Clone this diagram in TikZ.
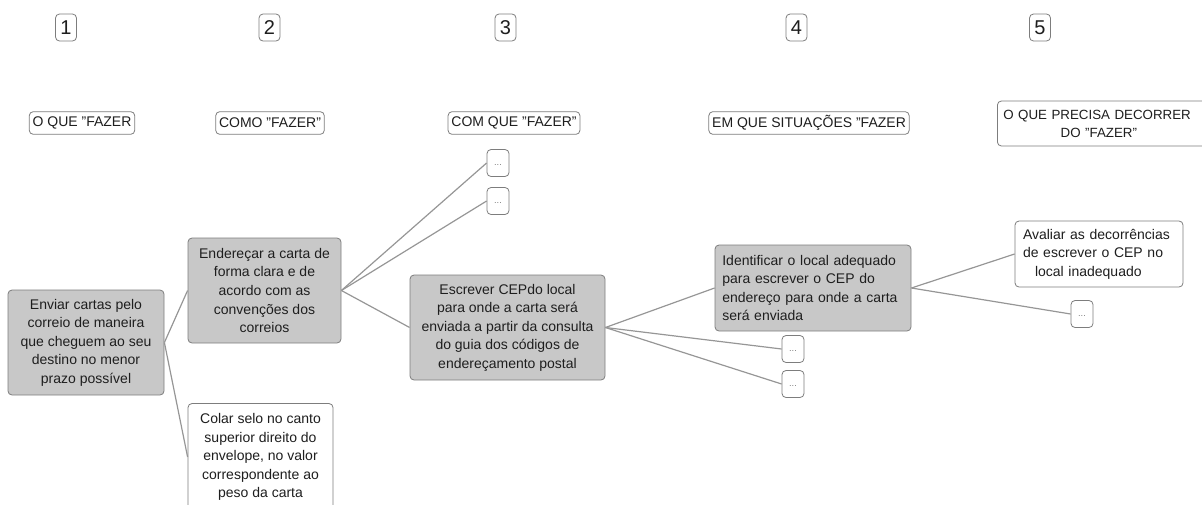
\documentclass[tikz,border=0pt]{standalone}
\usepackage{fontspec}
\setmainfont{Liberation Sans}[Ligatures=NoCommon]
\definecolor{txt}{RGB}{30,30,30}
\definecolor{bord}{RGB}{125,125,125}
\definecolor{gfill}{RGB}{200,200,200}
\definecolor{lnk}{RGB}{150,150,150}
\newcommand{\qq}{\symbol{34}}
\begin{document}
\begin{tikzpicture}[x=0.75pt,y=-0.75pt,
  every node/.style={font=\fontsize{10.5pt}{13.9pt}\selectfont, text=txt},
  gbox/.style={draw=bord, fill=gfill, rounded corners=3pt, align=center, inner sep=0pt, line width=0.6pt},
  wbox/.style={draw=bord, fill=white, rounded corners=3pt, align=center, inner sep=0pt, line width=0.6pt},
  num/.style={wbox, minimum width=15.75pt, minimum height=20.25pt, font=\fontsize{15pt}{15pt}\selectfont},
  hdr/.style={wbox, inner xsep=2.5pt, minimum height=17pt},
  dotbox/.style={wbox, minimum width=16.5pt, minimum height=20.25pt, text=gray, font=\fontsize{7pt}{7pt}\selectfont},
  link/.style={draw=lnk, line width=0.9pt}]
\useasboundingbox (0,0) rectangle (1202,504);
\clip (0,0) rectangle (1202,504);

% numbers
\node[num] (n1) at (66,27.5) {1};
\node[num] (n2) at (269.5,27.5) {2};
\node[num] (n3) at (505.5,27.5) {3};
\node[num] (n4) at (796.5,27.5) {4};
\node[num] (n5) at (1040,27.5) {5};

% headers
\node[hdr] (h1) at (82,123) {O QUE \qq FAZER};
\node[hdr] (h2) at (270,123) {COMO \qq FAZER\qq};
\node[hdr] (h3) at (514,123) {COM QUE \qq FAZER\qq};
\node[hdr] (h4) at (809,123) {EM QUE SITUAÇÕES \qq FAZER};
\node[wbox, minimum width=165pt, minimum height=33.75pt, anchor=west, align=left, text width=156pt,
  font=\fontsize{10pt}{13.5pt}\selectfont] (h5) at (997,123.5)
  {O QUE PRECISA DECORRER\\\hspace*{43pt}DO \qq FAZER\qq};

% main boxes
\node[gbox, minimum width=117pt, minimum height=78.75pt] (A) at (86,342.5)
  {Enviar cartas pelo\\correio de maneira\\que cheguem ao seu\\destino no menor\\prazo possível};
\node[gbox, minimum width=114.75pt, minimum height=78.75pt] (B) at (264.5,290.5)
  {Endereçar a carta de\\forma clara e de\\acordo com as\\convenções dos\\correios};
\node[wbox, minimum width=108.75pt, minimum height=80.25pt] (C) at (260.5,457)
  {Colar selo no canto\\superior direito do\\envelope, no valor\\correspondente ao\\peso da carta};
\node[gbox, minimum width=146.25pt, minimum height=78.75pt] (D) at (507.5,327.5)
  {Escrever CEPdo local\\para onde a carta será\\enviada a partir da consulta\\do guia dos códigos de\\endereçamento postal};
\node[gbox, minimum width=147pt, minimum height=64.5pt, align=left, text width=136pt] (E) at (813,288)
  {Identificar o local adequado\\para escrever o CEP do\\endereço para onde a carta\\será enviada};
\node[wbox, minimum width=126pt, minimum height=49.5pt, align=left, text width=114pt] (F) at (1099,254)
  {Avaliar as decorrências\\de escrever o CEP no\\\hspace*{9pt}local inadequado};

% dot boxes
\node[dotbox] (d1) at (498,163) {\raisebox{-4pt}{...}};
\node[dotbox] (d2) at (498,201) {\raisebox{-4pt}{...}};
\node[dotbox] (d3) at (793,349) {\raisebox{-4pt}{...}};
\node[dotbox] (d4) at (793,384) {\raisebox{-4pt}{...}};
\node[dotbox] (d5) at (1082,314) {\raisebox{-4pt}{...}};

% connectors
\draw[link] (A.east) -- (B.west);
\draw[link] (A.east) -- (C.west);
\draw[link] (B.east) -- (d1.west);
\draw[link] (B.east) -- (d2.west);
\draw[link] (B.east) -- (D.west);
\draw[link] (D.east) -- (E.west);
\draw[link] (D.east) -- (d3.west);
\draw[link] (D.east) -- (d4.west);
\draw[link] (E.east) -- (F.west);
\draw[link] (E.east) -- (d5.west);
\end{tikzpicture}
\end{document}
